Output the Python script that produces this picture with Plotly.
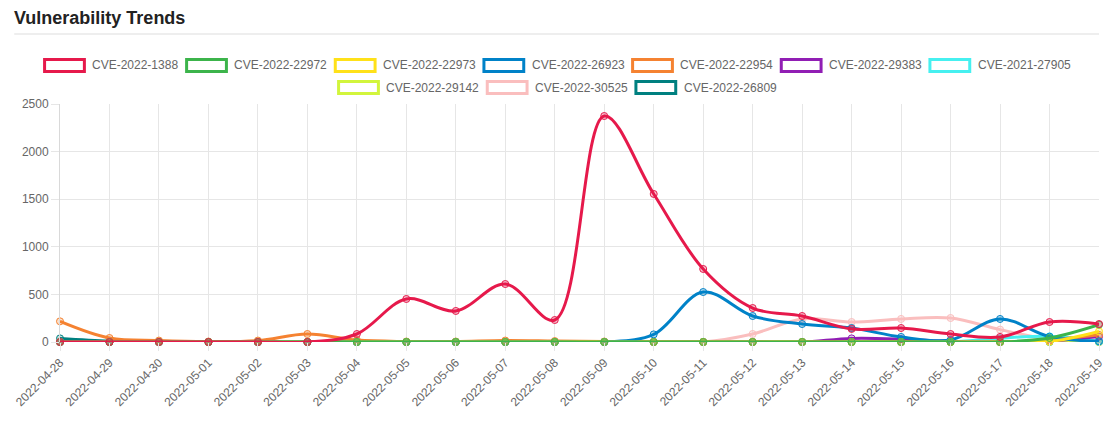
import plotly.graph_objects as go

dates = ["2022-04-28", "2022-04-29", "2022-04-30", "2022-05-01", "2022-05-02", "2022-05-03",
         "2022-05-04", "2022-05-05", "2022-05-06", "2022-05-07", "2022-05-08", "2022-05-09",
         "2022-05-10", "2022-05-11", "2022-05-12", "2022-05-13", "2022-05-14", "2022-05-15",
         "2022-05-16", "2022-05-17", "2022-05-18", "2022-05-19"]

cve_2022_1388 = [0, 0, 0, 0, 0, 0, 84, 452, 326, 609, 231, 2374, 1555, 767, 357, 273, 137, 147, 84, 53, 210, 189]
cve_2022_22972 = [0, 0, 0, 0, 0, 0, 0, 0, 0, 0, 0, 0, 0, 0, 0, 0, 0, 0, 0, 0, 42, 182]
cve_2022_22973 = [0, 0, 0, 0, 0, 0, 0, 0, 0, 0, 0, 0, 0, 0, 0, 0, 0, 0, 0, 0, 5, 112]
cve_2022_26923 = [0, 0, 0, 0, 0, 0, 0, 0, 0, 0, 0, 0, 80, 525, 273, 189, 147, 53, 21, 242, 55, 7]
cve_2022_22954 = [217, 42, 15, 5, 15, 84, 20, 5, 5, 15, 10, 5, 0, 0, 0, 0, 0, 0, 0, 0, 20, 75]
cve_2022_29383 = [0, 0, 0, 0, 0, 0, 0, 0, 0, 0, 0, 0, 0, 0, 0, 0, 38, 30, 5, 0, 10, 57]
cve_2021_27905 = [0, 0, 0, 0, 0, 0, 0, 0, 0, 0, 0, 0, 0, 0, 0, 0, 0, 0, 0, 40, 60, 5]
cve_2022_29142 = [0, 0, 0, 0, 0, 0, 0, 0, 0, 0, 0, 0, 0, 0, 0, 0, 0, 0, 0, 0, 0, 0]
cve_2022_30525 = [0, 0, 0, 0, 0, 0, 0, 0, 0, 0, 0, 0, 0, 0, 84, 242, 210, 242, 252, 130, 30, 20]
cve_2022_26809 = [38, 10, 0, 0, 0, 0, 0, 0, 0, 0, 0, 0, 0, 0, 0, 0, 0, 0, 0, 0, 0, 0]

names = ["CVE-2022-1388", "CVE-2022-22972", "CVE-2022-22973", "CVE-2022-26923", "CVE-2022-22954",
         "CVE-2022-29383", "CVE-2021-27905", "CVE-2022-29142", "CVE-2022-30525", "CVE-2022-26809"]
series = [cve_2022_1388, cve_2022_22972, cve_2022_22973, cve_2022_26923, cve_2022_22954,
          cve_2022_29383, cve_2021_27905, cve_2022_29142, cve_2022_30525, cve_2022_26809]
colors = ["#e6194b", "#3cb44b", "#ffe119", "#0082c8", "#f58231",
          "#911eb4", "#46f0f0", "#d2f53c", "#fabebe", "#008080"]
y_ticks = [0, 500, 1000, 1500, 2000, 2500]

W, H = 1118, 428
ML, MR, MT, MB = 60, 14, 104, 86
PW, PH = W - ML - MR, H - MT - MB


def rgba(hexc, a):
    h = hexc.lstrip("#")
    r, g, b = int(h[0:2], 16), int(h[2:4], 16), int(h[4:6], 16)
    return f"rgba({r},{g},{b},{a})"


def px_x(px):
    return (px - ML) / PW


def px_y(py):
    return (H - MB - py) / PH


fig = go.Figure()

# data traces, drawn in reverse so the first series is on top
for name, vals, col in reversed(list(zip(names, series, colors))):
    fig.add_trace(go.Scatter(
        x=dates, y=vals, name=name, mode="lines+markers",
        line=dict(color=col, width=3, shape="spline", smoothing=1),
        marker=dict(symbol="circle", size=7, color=rgba(col, 0.25),
                    line=dict(color=col, width=1)),
        showlegend=False, cliponaxis=False,
    ))

# Chart.js-style legend: boxes + labels, rows centred
shapes = [dict(type="line", xref="paper", yref="paper", x0=px_x(14), x1=px_x(1104),
               y0=px_y(34), y1=px_y(34), line=dict(color="#dddddd", width=1))]
annotations = []
BOX_W, BOX_H, GAP, PAD, CHAR_W = 40, 12, 6, 10, 6.67
MAX_ROW = 1090
CENTER = 559
ROW_Y = [65.5, 87.5]

items = [(n, c, BOX_W + GAP + len(n) * CHAR_W + PAD) for n, c in zip(names, colors)]
rows, cur, cur_w = [], [], 0
for it in items:
    if cur and cur_w + it[2] > MAX_ROW:
        rows.append(cur)
        cur, cur_w = [], 0
    cur.append(it)
    cur_w += it[2]
if cur:
    rows.append(cur)

for ri, row in enumerate(rows):
    total = sum(it[2] for it in row) - PAD
    x = CENTER - total / 2
    yc = ROW_Y[ri]
    for n, c, w in row:
        shapes.append(dict(type="rect", xref="paper", yref="paper",
                           x0=px_x(x), x1=px_x(x + BOX_W),
                           y0=px_y(yc - BOX_H / 2), y1=px_y(yc + BOX_H / 2),
                           line=dict(color=c, width=3), fillcolor="white", layer="above"))
        annotations.append(dict(text=n, xref="paper", yref="paper",
                                x=px_x(x + BOX_W + GAP), y=px_y(yc),
                                xanchor="left", yanchor="middle", showarrow=False,
                                font=dict(size=12, color="#666"), xshift=0))
        x += w

fig.update_layout(
    width=W, height=H,
    margin=dict(l=ML, r=MR, t=MT, b=MB),
    paper_bgcolor="white", plot_bgcolor="white",
    font=dict(family="Liberation Sans, Arial, sans-serif", size=12, color="#666"),
    title=dict(text="<b>Vulnerability Trends</b>", x=14 / W, xref="container",
               xanchor="left", y=1 - 18 / H, yref="container", yanchor="middle",
               font=dict(size=18, color="#222", family="Liberation Sans, Arial, sans-serif")),
    showlegend=False,
    shapes=shapes,
    annotations=annotations,
)

fig.update_xaxes(type="category", range=[0, len(dates) - 1], tickangle=-45,
                 showgrid=True, gridcolor="#e6e6e6", gridwidth=1,
                 ticks="outside", ticklen=8, tickcolor="#e6e6e6",
                 showline=False, zeroline=False,
                 tickfont=dict(size=12, color="#666"))
fig.update_yaxes(range=[0, 2500], tickvals=y_ticks, showgrid=True, gridcolor="#e6e6e6",
                 ticks="outside", ticklen=8, tickcolor="#e6e6e6",
                 showline=True, linecolor="#d9d9d9", linewidth=1,
                 zeroline=False, tickfont=dict(size=12, color="#666"))

fig.write_html("out.html")
